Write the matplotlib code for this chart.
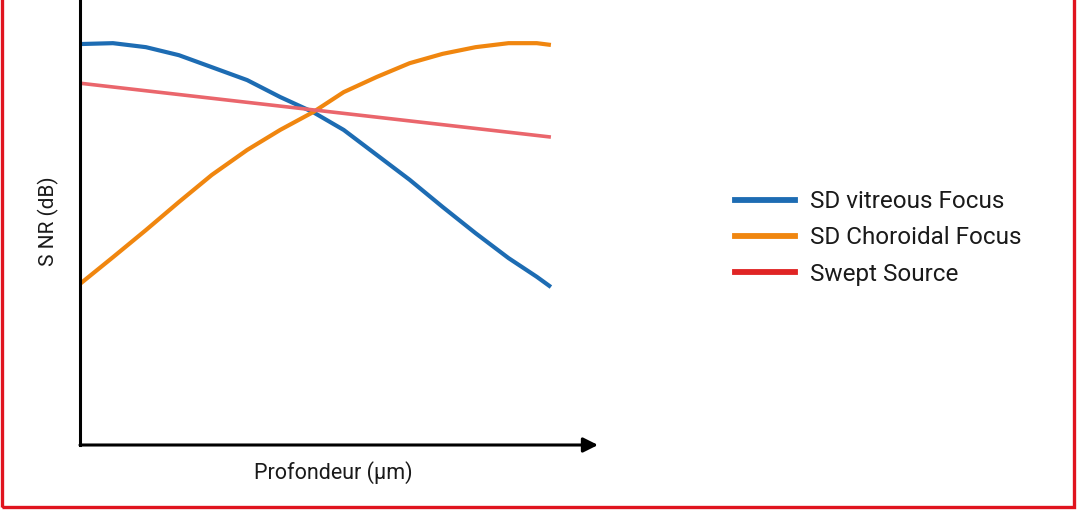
import matplotlib.pyplot as plt
from matplotlib.patches import Rectangle
from matplotlib.lines import Line2D

plt.rcParams['font.family'] = ['Roboto', 'DejaVu Sans']

# depth (arbitrary units) and SNR (arbitrary units)
depth = [0, 7, 14, 21, 28, 35.5, 42.5, 49.5, 56, 63, 70, 77, 84, 91, 97, 100]
snr_vitreous = [90.1, 90.3, 89.4, 87.6, 84.9, 82.0, 78.2, 74.8, 70.8, 65.2,
                59.6, 53.5, 47.6, 42.0, 37.8, 35.5]
snr_choroidal = [36.2, 42.2, 48.3, 54.6, 60.7, 66.3, 70.8, 74.8, 79.3, 82.7,
                 85.8, 87.9, 89.4, 90.3, 90.3, 89.9]
depth_swept = [0, 100]
snr_swept = [81.3, 69.2]

labels = ['SD vitreous Focus', 'SD Choroidal Focus', 'Swept Source']
line_colors = ['#1d6cb3', '#f0860f', '#ea666c']
legend_colors = ['#1d6cb3', '#f0860f', '#e02424']

fig = plt.figure(figsize=(10.78, 5.16), dpi=100)
ax = fig.add_axes([80 / 1078, 71 / 516, 518 / 1078, 445 / 516])

ax.plot(depth, snr_vitreous, color=line_colors[0], lw=3.0, solid_capstyle='butt')
ax.plot(depth, snr_choroidal, color=line_colors[1], lw=3.0, solid_capstyle='butt')
ax.plot(depth_swept, snr_swept, color=line_colors[2], lw=2.6, solid_capstyle='butt')

ax.set_xlim(0, 110)
ax.set_ylim(0, 100)
for s in ax.spines.values():
    s.set_visible(False)
ax.set_xticks([])
ax.set_yticks([])

# axes: vertical line and horizontal arrow
ax.plot([0, 0], [0, 1], transform=ax.transAxes, color='black', lw=2.2, clip_on=False)
ax.annotate('', xy=(1, 0), xytext=(0, 0), xycoords='axes fraction',
            arrowprops=dict(arrowstyle='-|>', lw=2.2, color='black',
                            mutation_scale=22, shrinkA=0, shrinkB=0))

fig.text(48 / 1078, 1 - 221 / 516, 'S NR (dB)', rotation=90, ha='center', va='center',
         fontsize=15, color='#1a1a1a')
fig.text(333 / 1078, 1 - 473 / 516, 'Profondeur (µm)', ha='center', va='center',
         fontsize=15.5, color='#1a1a1a')

handles = [Line2D([0], [0], color=c, lw=4.2) for c in legend_colors]
fig.legend(handles, labels, loc='center left', bbox_to_anchor=(713 / 1078, 1 - 238 / 516),
           frameon=False, fontsize=17.5, handlelength=2.47, handletextpad=0.62,
           labelspacing=0.54, labelcolor='#1a1a1a')

# red frame around the picture
fig.patches.append(Rectangle((2 / 1078, 1 - 507 / 516), 1072 / 1078, 1.1,
                             transform=fig.transFigure, fill=False,
                             edgecolor='#e0141e', lw=2.4))

fig.savefig('out.png', dpi=100)
